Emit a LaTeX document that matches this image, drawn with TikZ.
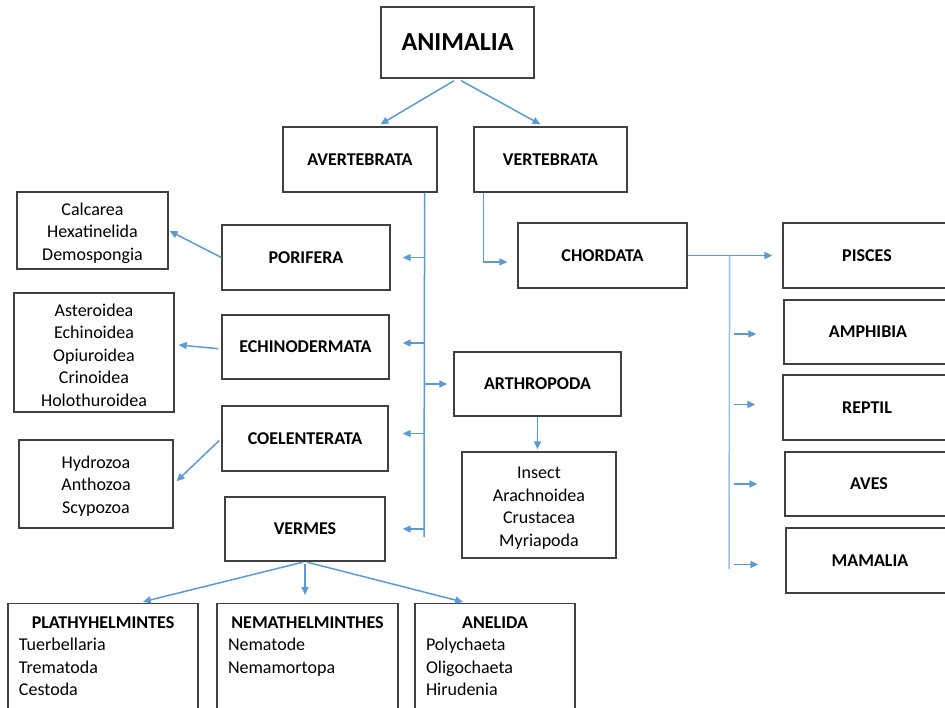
\documentclass[tikz,border=0pt]{standalone}
\usepackage{fontspec}
\setmainfont{Carlito}
\usepackage{tikz}
\usetikzlibrary{arrows.meta}
\usepackage{xcolor}

\definecolor{linkblue}{RGB}{91,155,213}
\definecolor{trunkblue}{RGB}{150,192,232}
\definecolor{boxgray}{RGB}{64,64,64}

\newcommand{\topstrut}{\rule{0pt}{18pt}}

\begin{document}
\begin{tikzpicture}[x=1pt,y=-1pt,
  box/.style={draw=boxgray, line width=1.3pt, inner sep=0pt, align=center, font=\fontsize{18}{22.5}\selectfont\bfseries},
  listbox/.style={draw=boxgray, line width=1.3pt, inner sep=0pt, align=center, font=\fontsize{18}{22.5}\selectfont},
  groupbox/.style={draw=boxgray, line width=1.3pt, anchor=north, inner xsep=11pt, inner ysep=13pt, align=left, font=\fontsize{18}{22.5}\selectfont},
  arr/.style={draw=linkblue, line width=1.5pt, -{Triangle[length=8pt,width=7pt]}},
  trunk/.style={draw=linkblue, line width=1.5pt}]

\useasboundingbox (0,0) rectangle (945,707);
\clip (0,0) rectangle (945,707);

% kingdom and subkingdoms
\node[box, minimum width=153pt, minimum height=71pt, font=\fontsize{26}{30}\selectfont\bfseries] (animalia) at (457.5,42.5) {ANIMALIA};
\node[box, minimum width=154pt, minimum height=65pt] (avert) at (360,159.5) {AVERTEBRATA};
\node[box, minimum width=153pt, minimum height=65pt] (vert) at (550.5,159.5) {VERTEBRATA};

\draw[arr, shorten <=4pt, shorten >=4pt] (animalia.south) -- ([xshift=17pt]avert.north);
\draw[arr, shorten <=4pt, shorten >=4pt] (animalia.south) -- ([xshift=-6.5pt]vert.north);

% avertebrata
\node[box, minimum width=168pt, minimum height=65pt] (porifera) at (306,257.5) {PORIFERA};
\node[box, minimum width=167pt, minimum height=64pt] (echino) at (305.5,347) {ECHINODERMATA};
\node[box, minimum width=167pt, minimum height=64pt] (arthro) at (537.5,384) {ARTHROPODA};
\node[box, minimum width=166pt, minimum height=65pt] (coelent) at (305,438.5) {COELENTERATA};
\node[box, minimum width=160pt, minimum height=64pt] (vermes) at (305,529) {VERMES};

\node[listbox, minimum width=151pt, minimum height=77pt] (calcarea) at (92.5,230.5) {\topstrut Calcarea\\Hexatinelida\\Demospongia};
\node[listbox, minimum width=160pt, minimum height=119pt] (asteroidea) at (94,352.5) {\topstrut Asteroidea\\Echinoidea\\Opiuroidea\\Crinoidea\\Holothuroidea};
\node[listbox, minimum width=154pt, minimum height=88pt] (hydrozoa) at (96,484) {\rule{0pt}{16.5pt}Hydrozoa\\Anthozoa\\Scypozoa};
\node[listbox, minimum width=154pt, minimum height=106pt] (insect) at (539,505) {\rule{0pt}{17.5pt}Insect\\Arachnoidea\\Crustacea\\Myriapoda};

\node[groupbox, text width=168pt] (plathy) at (103,603) {{\centering\textbf{PLATHYHELMINTES}\par}Tuerbellaria\\Trematoda\\Cestoda\\\mbox{}};
\node[groupbox, text width=159pt] (nema) at (307.5,603) {{\centering\textbf{NEMATHELMINTHES}\par}Nematode\\Nemamortopa\\\mbox{}\\\mbox{}};
\node[groupbox, text width=138pt] (anelida) at (495,603) {{\centering\textbf{ANELIDA}\par}Polychaeta\\Oligochaeta\\Hirudenia\\\mbox{}};

\coordinate (ltop) at ([xshift=-13pt]avert.south east);
\coordinate (lbot) at (424,537);
\draw[trunk] (ltop) -- (lbot);
\foreach \n/\dy/\gap in {porifera/0pt/12pt, echino/4pt/13pt, coelent/5pt/14pt, vermes/0pt/17pt}
  \draw[arr, shorten >=\gap] ([yshift=\dy]\n.east -| ltop) -- ([yshift=\dy]\n.east);
\draw[arr, shorten >=6pt] (arthro.west -| ltop) -- (arthro.west);

\draw[arr, shorten >=1pt] (porifera.west) -- (calcarea.east);
\draw[arr, shorten <=3pt, shorten >=4pt] ([yshift=-2pt]echino.west) -- ([yshift=8pt]asteroidea.east);
\draw[arr, shorten <=3pt, shorten >=4pt] (coelent.west) -- (hydrozoa.east);
\draw[arr, shorten >=2pt] (arthro.south) -- (arthro.south |- insect.north);

\draw[arr, shorten <=2pt, shorten >=5pt] (vermes.south) -- ([xshift=35pt]plathy.north);
\draw[arr, shorten <=2pt, shorten >=8pt] (vermes.south) -- (vermes.south |- nema.north);
\draw[arr, shorten <=2pt, shorten >=4pt] (vermes.south) -- ([xshift=-28pt]anelida.north);

% vertebrata
\node[box, minimum width=169pt, minimum height=65pt] (chordata) at (602.5,255.5) {CHORDATA};
\node[box, minimum width=168pt, minimum height=65pt] (pisces) at (867,255.5) {PISCES};
\node[box, minimum width=168pt, minimum height=64pt] (amphibia) at (868,332) {AMPHIBIA};
\node[box, minimum width=168pt, minimum height=65pt] (reptil) at (867,407.5) {REPTIL};
\node[box, minimum width=168pt, minimum height=64pt] (aves) at (869,484) {AVES};
\node[box, minimum width=168pt, minimum height=65pt] (mamalia) at (870,560.5) {MAMALIA};

\draw[arr, shorten >=10pt] ([xshift=10pt]vert.south west) |- ([yshift=-6.5pt]chordata.west);
\draw[arr, shorten >=10pt] (chordata.east) -- (pisces.west);

\coordinate (rtop) at ([xshift=42pt]chordata.east);
\coordinate (rbot) at (729,569);
\draw[trunk, draw=trunkblue] (rtop) -- (rbot);
\foreach \n/\dy in {amphibia/-2pt, reptil/3pt, aves/0pt, mamalia/-4pt}
  \draw[arr, shorten >=27pt] ([xshift=4pt,yshift=\dy]\n.west -| rtop) -- ([yshift=\dy]\n.west);

\end{tikzpicture}
\end{document}
